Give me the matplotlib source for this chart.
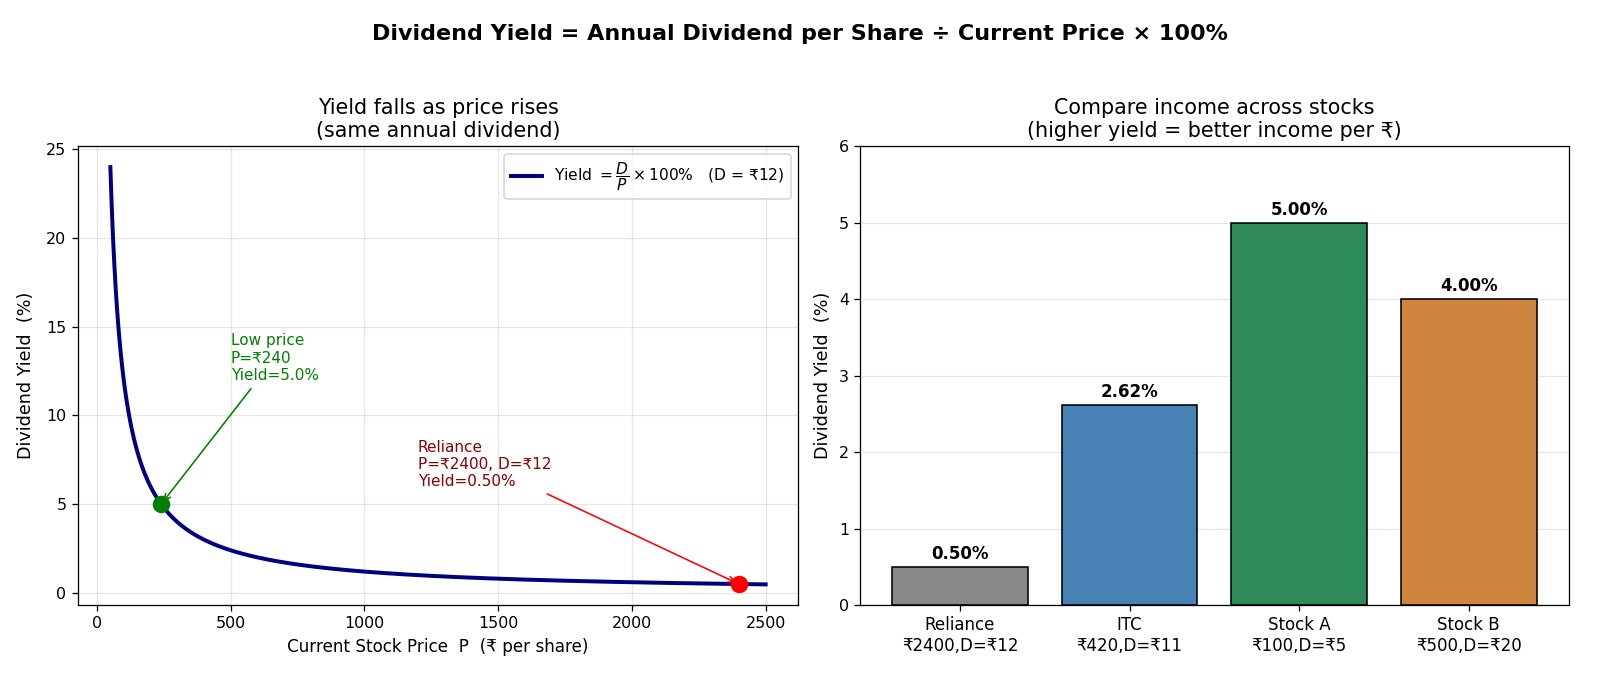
import numpy as np
import matplotlib
matplotlib.use("Agg")
import matplotlib.pyplot as plt

# Left panel: yield curve for a fixed annual dividend
D_fixed = 12
prices = np.linspace(50, 2500, 500)
yields = D_fixed / prices * 100

low_price = 240
low_yield = 5.0
rel_price = 2400
rel_yield = 0.50

# Right panel: comparison across stocks
stocks = ["Reliance\n₹2400,D=₹12", "ITC\n₹420,D=₹11", "Stock A\n₹100,D=₹5", "Stock B\n₹500,D=₹20"]
stock_yields = [0.50, 2.62, 5.00, 4.00]
bar_colors = ["#888888", "#4682B4", "#2E8B57", "#CD853F"]

DPI = 1600 / 14
fig = plt.figure(figsize=(14, 677 / DPI), dpi=DPI)
ax1 = fig.add_axes([0.0485, 0.106, 0.4505, 0.678])
ax2 = fig.add_axes([0.5375, 0.106, 0.443, 0.678])

fig.suptitle("Dividend Yield = Annual Dividend per Share ÷ Current Price × 100%",
             fontsize=14, fontweight="bold", y=0.965)

ax1.plot(prices, yields, color="#000080", lw=2.5,
         label=r"Yield $=\dfrac{D}{P}\times100\%$   (D = ₹12)")
ax1.plot([low_price], [low_yield], "o", color="green", ms=10, zorder=5)
ax1.plot([rel_price], [rel_yield], "o", color="red", ms=10, zorder=5)
ax1.annotate("Low price\nP=₹240\nYield=5.0%", xy=(low_price, low_yield),
             xytext=(500, 12), color="green", fontsize=9.6,
             arrowprops=dict(arrowstyle="->", color="green", lw=1.0))
ax1.annotate("Reliance\nP=₹2400, D=₹12\nYield=0.50%", xy=(rel_price, rel_yield),
             xytext=(1200, 6), color="darkred", fontsize=9.6,
             arrowprops=dict(arrowstyle="->", color="red", lw=1.0))
ax1.set_title("Yield falls as price rises\n(same annual dividend)", fontsize=13)
ax1.set_xlabel("Current Stock Price  P  (₹ per share)", fontsize=10.6)
ax1.set_ylabel("Dividend Yield  (%)", fontsize=11, labelpad=7)
ax1.tick_params(labelsize=10)
ax1.grid(True, alpha=0.3)
ax1.legend(loc="upper right", fontsize=9.75)

x = np.arange(len(stocks))
bars = ax2.bar(x, stock_yields, color=bar_colors, edgecolor="black", width=0.8)
for xi, v in zip(x, stock_yields):
    ax2.text(xi, v + 0.05, f"{v:.2f}%", ha="center", va="bottom",
             fontsize=10.5, fontweight="bold")
ax2.set_xticks(x)
ax2.set_xticklabels(stocks, fontsize=10.5)
ax2.set_ylim(0, 6)
ax2.set_title("Compare income across stocks\n(higher yield = better income per ₹)", fontsize=13)
ax2.set_ylabel("Dividend Yield  (%)", fontsize=11, labelpad=4)
ax2.tick_params(axis="y", labelsize=10)
ax2.grid(True, axis="y", alpha=0.3)
ax2.set_axisbelow(True)

fig.savefig("out.png", dpi=DPI)
